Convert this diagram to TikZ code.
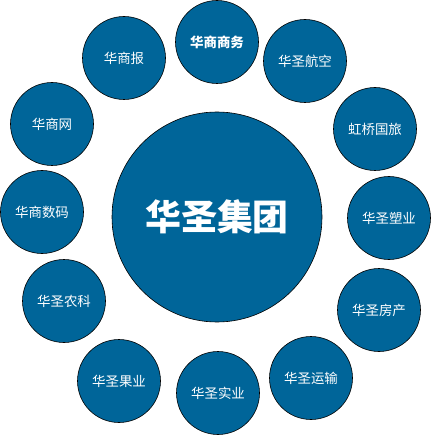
\documentclass[tikz,border=0pt]{standalone}
\usepackage{fontspec}
\newfontfamily\cjk{Noto Sans CJK SC}
\usepackage{tikz}
\usetikzlibrary{positioning}
\definecolor{hsblue}{RGB}{0,101,153}

\begin{document}
\begin{tikzpicture}[x=1bp, y=-1bp,
    hub/.style  ={circle, draw=black, fill=hsblue, line width=0.6bp, minimum size=210bp,
                  text=white, font=\cjk\bfseries\fontsize{36}{40}\selectfont},
    firm/.style ={circle, draw=black, fill=hsblue, line width=0.6bp, minimum size=83bp,
                  inner sep=0pt, text=white, font=\cjk\fontsize{13.5}{15}\selectfont}]
    \useasboundingbox (0,0) rectangle (431,435);
    % Group
    \node [hub] (jituan) at (217,217) {华圣集团};
    % Companies
    \node [firm] (shangwu) at (217, 42) {\bfseries 华商商务};
    \node [firm] (hangkong) at (305, 61) {华圣航空};
    \node [firm] (guolv)    at (375,129) {虹桥国旅};
    \node [firm] (suye)     at (389,218) {华圣塑业};
    \node [firm] (fangchan) at (379,310) {华圣房产};
    \node [firm] (yunshu)   at (311,378) {华圣运输};
    \node [firm] (shiye)    at (218,393) {华圣实业};
    \node [firm] (guoye)    at (119,381) {华圣果业};
    \node [firm] (nongke)   at ( 64,301) {华圣农科};
    \node [firm] (shuma)    at ( 42,212) {华商数码};
    \node [firm] (wang)     at ( 52,124) {华商网};
    \node [firm] (bao)      at (124, 58) {华商报};
\end{tikzpicture}
\end{document}
